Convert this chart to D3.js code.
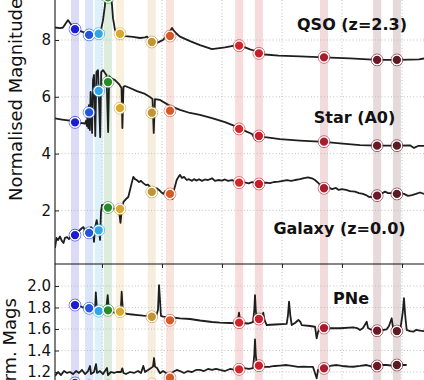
<!DOCTYPE html>
<html><head><meta charset="utf-8">
<script src="https://cdn.jsdelivr.net/npm/d3@7"></script>
<style>html,body{margin:0;padding:0;background:#fff;overflow:hidden}svg{display:block}</style>
</head><body><svg id="c" width="424" height="380"></svg>
<script>
// ---------- data ----------
const filters = ['uJAVA','J0378','J0395','J0410','J0430','gSDSS','J0515','rSDSS','J0660','iSDSS','J0861','zSDSS'];
const filterWave = [3550,3785,3945,4100,4300,4830,5133,6285,6615,7700,8585,8915];
const filterColor = ['#1c1cd6','#2455e0','#2ea6e8','#2a8a2a','#d9a92c','#c39433','#d9582a','#d42428','#c81d2a','#a81c2c','#6e1826','#5c1a22'];

const xTicks = [4000,5000,6000,7000,8000,9000];
const topTicks = [2,4,6,8];
const botTicks = [1.2,1.4,1.6,1.8,2.0];

const qsoWave = [3217,3300,3350,3400,3433,3467,3517,3550,3633,3717,3783,3867,3950,3983,4017,4050,4067,4083,4108,4133,4150,4167,4183,4217,4250,4300,4383,4517,4633,4717,4750,4783,4833,4917,4967,5017,5083,5133,5167,5200,5250,5300,5467,5633,5833,6050,6183,6233,6300,6383,6467,6533,6600,6717,6945,7300,7700,8133,8583,8917,9133,9283,9367];
const qsoMag = [8.44,8.42,8.44,8.60,8.70,8.60,8.46,8.38,8.32,8.25,8.18,8.18,8.22,8.35,8.70,9.23,9.76,10.29,10.46,10.11,9.58,9.23,8.77,8.35,8.25,8.19,8.14,8.11,8.07,8.09,8.12,8.04,7.93,7.90,7.95,8.00,8.18,8.32,8.42,8.32,8.21,8.12,7.96,7.82,7.68,7.74,7.79,7.81,7.79,7.74,7.67,7.63,7.54,7.49,7.45,7.42,7.39,7.35,7.30,7.30,7.31,7.32,7.35];
const qsoPhot = [8.38,8.18,8.22,9.50,8.22,7.93,8.14,7.80,7.53,7.39,7.30,7.30];

const starWave = [3217,3333,3467,3550,3633,3717,3733,3750,3760,3772,3782,3798,3810,3835,3850,3867,3888,3907,3933,3970,3987,4017,4050,4075,4102,4120,4150,4217,4283,4325,4340,4358,4383,4467,4583,4717,4800,4842,4862,4883,4967,5133,5300,5467,5633,5833,6050,6250,6383,6500,6563,6600,6717,6967,7300,7700,7967,8300,8583,8917,9133,9200,9267,9367];
const starMag = [5.24,5.20,5.16,5.10,5.08,5.06,5.15,4.97,5.46,4.90,5.71,4.83,6.17,4.73,6.59,6.77,4.62,6.87,6.94,4.58,6.87,6.94,6.84,6.77,4.76,6.73,6.66,6.59,6.45,6.31,4.90,6.35,6.38,6.31,6.20,6.10,5.99,5.92,4.73,5.92,5.89,5.68,5.54,5.43,5.36,5.25,5.11,4.94,4.80,4.69,4.48,4.65,4.58,4.51,4.46,4.41,4.36,4.30,4.28,4.28,4.29,4.20,4.27,4.27];
const starPhot = [5.10,5.45,6.21,6.52,5.60,5.44,5.51,4.87,4.62,4.42,4.28,4.28];

const galWave = [3217,3242,3267,3300,3333,3358,3383,3417,3450,3492,3550,3583,3633,3667,3692,3717,3742,3767,3792,3817,3842,3867,3883,3912,3933,3950,3967,3983,4000,4033,4067,4100,4150,4183,4233,4283,4308,4325,4358,4400,4438,4467,4495,4522,4550,4578,4617,4650,4688,4733,4767,4800,4833,4867,4912,4950,4983,5022,5050,5078,5108,5142,5175,5200,5245,5275,5300,5333,5367,5412,5450,5500,5533,5578,5617,5667,5717,5767,5833,5883,5933,6000,6050,6100,6167,6233,6288,6350,6445,6500,6550,6612,6667,6733,6800,6867,6945,7017,7083,7150,7217,7300,7367,7433,7500,7550,7612,7650,7700,7767,7833,7900,7945,8000,8067,8133,8217,8283,8350,8400,8445,8500,8550,8600,8650,8717,8767,8833,8912,8967,9033,9100,9167,9233,9300,9367];
const galMag = [0.68,1.03,0.96,1.08,0.92,0.85,1.03,1.06,0.99,1.13,1.13,1.20,1.31,1.38,1.41,1.27,1.35,1.20,1.27,1.41,1.35,0.89,1.38,1.66,1.38,1.45,0.96,1.94,2.19,2.19,2.12,2.08,2.08,2.07,2.05,2.01,1.56,1.94,2.30,2.40,2.47,2.72,2.96,3.18,3.10,3.07,3.00,3.04,2.96,2.89,2.91,2.82,2.68,2.75,2.78,2.72,2.65,2.58,2.68,2.66,2.61,2.51,2.40,2.72,3.07,3.18,3.25,3.14,3.18,3.07,3.10,3.04,3.10,3.05,3.10,3.04,3.09,3.07,3.13,3.04,3.07,3.05,3.09,3.04,3.07,3.00,2.98,3.00,2.95,3.00,2.95,2.93,2.96,2.98,2.96,3.00,3.01,3.04,3.07,3.04,3.07,3.10,3.14,3.16,3.13,3.07,2.95,2.86,2.78,2.82,2.75,2.79,2.72,2.75,2.72,2.68,2.66,2.61,2.58,2.54,2.48,2.47,2.51,2.51,2.58,2.66,2.61,2.61,2.58,2.61,2.58,2.51,2.54,2.58,2.63,2.58];
const galPhot = [1.13,1.21,1.30,2.10,2.05,2.65,2.58,2.98,2.93,2.78,2.52,2.58];

const pneWave = [3583,3633,3683,3733,3783,3833,3883,3892,3897,3905,3917,3967,4017,4067,4083,4095,4105,4117,4167,4217,4267,4312,4322,4328,4338,4350,4412,4500,4600,4688,4767,4833,4900,4933,4950,4967,4983,5022,5100,5167,5300,5467,5633,5833,5967,6133,6245,6267,6283,6300,6333,6433,6517,6538,6550,6563,6578,6617,6667,6688,6708,6745,6883,7078,7100,7117,7138,7162,7217,7272,7308,7328,7467,7550,7578,7600,7633,7800,7967,8188,8250,8300,8350,8412,8433,8495,8633,8745,8783,8828,8855,8933,8975,9013,9033,9053,9078,9133,9188,9233,9300,9367];
const pneMag = [1.823,1.814,1.800,1.795,1.786,1.777,1.777,1.870,1.941,1.870,1.767,1.758,1.758,1.763,1.851,1.916,1.842,1.767,1.758,1.753,1.753,1.777,1.870,1.947,1.851,1.758,1.740,1.735,1.730,1.724,1.721,1.716,1.716,1.777,2.009,1.870,1.721,1.716,1.712,1.707,1.698,1.693,1.679,1.665,1.659,1.656,1.653,1.684,1.752,1.684,1.656,1.651,1.665,1.777,1.916,1.777,1.684,1.688,1.702,1.752,1.684,1.637,1.642,1.647,1.730,1.854,1.730,1.637,1.656,1.684,1.665,1.637,1.628,1.621,1.513,1.572,1.607,1.609,1.607,1.616,1.609,1.591,1.609,1.668,1.609,1.591,1.586,1.597,1.628,1.700,1.591,1.581,1.609,1.758,1.886,1.730,1.591,1.581,1.575,1.591,1.584,1.581];
const pnePhot = [1.823,1.793,1.767,1.774,1.761,1.714,1.681,1.659,1.693,1.609,1.584,1.581];

const lowerWave = [3217,3267,3317,3367,3417,3467,3517,3567,3617,3667,3717,3767,3800,3817,3867,3900,3917,3967,4017,4083,4100,4150,4200,4250,4317,4338,4358,4400,4467,4533,4600,4650,4688,4717,4767,4817,4850,4867,4883,4917,4967,5017,5067,5133,5183,5245,5300,5367,5433,5500,5567,5633,5700,5767,5833,5900,5967,6050,6133,6217,6283,6367,6450,6517,6538,6550,6563,6583,6633,6717,6800,6883,6967,7078,7167,7267,7355,7433,7517,7578,7600,7700,7800,7912,8000,8100,8188,8300,8412,8500,8583,8667,8745,8833,8917,9000,9078];
const lowerMag = [1.163,1.200,1.172,1.209,1.191,1.200,1.181,1.209,1.191,1.219,1.181,1.209,1.256,1.181,1.200,1.274,1.191,1.209,1.181,1.237,1.172,1.200,1.191,1.200,1.200,1.234,1.191,1.181,1.200,1.191,1.209,1.191,1.256,1.200,1.219,1.237,1.250,1.330,1.250,1.237,1.188,1.209,1.191,1.163,1.200,1.219,1.209,1.191,1.209,1.200,1.219,1.219,1.209,1.228,1.219,1.228,1.219,1.209,1.228,1.219,1.225,1.237,1.228,1.237,1.358,1.504,1.358,1.247,1.256,1.247,1.249,1.256,1.260,1.265,1.256,1.247,1.249,1.247,1.247,1.141,1.219,1.234,1.256,1.265,1.256,1.251,1.249,1.256,1.265,1.251,1.256,1.265,1.265,1.260,1.265,1.265,1.265];
const lowerPhot = [1.098,1.070,1.051,1.070,1.051,1.088,1.147,1.225,1.259,1.234,1.256,1.265];

const labelsTop = ['QSO (z=2.3)','Star (A0)','Galaxy (z=0.0)'];
const labelBottom = 'PNe';

// ---------- drawing ----------
const svg = d3.select('#c');
const W = 424, H = 380;
const left = 55, sep = 264;
const x = d3.scaleLinear().domain([4000,9000]).range([102,402]);
const yTop = d3.scaleLinear().domain([8,2]).range([40,210.4]);
const yBot = d3.scaleLinear().domain([2.0,1.2]).range([286,372]);

const defs = svg.append('defs');
defs.append('clipPath').attr('id','clipTop').append('rect').attr('x',left).attr('y',-60).attr('width',W).attr('height',sep+60);
defs.append('clipPath').attr('id','clipBot').append('rect').attr('x',left).attr('y',sep).attr('width',W).attr('height',200);

// filter bands
svg.append('g').selectAll('rect').data(filterWave).join('rect')
  .attr('x', d => x(d) - 4).attr('width', 8)
  .attr('y', 0).attr('height', H)
  .attr('fill', (d,i) => filterColor[i]).attr('fill-opacity', 0.16);

// grid
const grid = svg.append('g').attr('stroke','#b4b4b4').attr('stroke-width',0.8).attr('stroke-dasharray','1,2.2');
grid.selectAll('.vx').data(xTicks).join('line').attr('class','vx')
  .attr('x1',d=>x(d)).attr('x2',d=>x(d)).attr('y1',0).attr('y2',H);
grid.selectAll('.ht').data(topTicks).join('line').attr('class','ht')
  .attr('x1',left).attr('x2',W).attr('y1',d=>yTop(d)).attr('y2',d=>yTop(d));
grid.selectAll('.hb').data(botTicks).join('line').attr('class','hb')
  .attr('x1',left).attr('x2',W).attr('y1',d=>yBot(d)).attr('y2',d=>yBot(d));

// spectra
function spec(g, wave, mag, y) {
  const pts = wave.map((w,i)=>[w, mag[i]]);
  g.append('path').datum(pts)
    .attr('d', d3.line().x(d=>x(d[0])).y(d=>y(d[1])))
    .attr('fill','none').attr('stroke','#1e1e1e').attr('stroke-width',1.8)
    .attr('stroke-linejoin','round');
}
function phot(g, vals, y) {
  const pts = vals.map((v,i)=>({w:filterWave[i], v, c:filterColor[i]}));
  const gg = g.append('g');
  gg.selectAll('.o').data(pts).join('circle').attr('class','o')
    .attr('cx',d=>x(d.w)).attr('cy',d=>y(d.v)).attr('r',5.9)
    .attr('fill','none').attr('stroke',d=>d.c).attr('stroke-width',0.9).attr('stroke-opacity',0.75);
  gg.selectAll('.i').data(pts).join('circle').attr('class','i')
    .attr('cx',d=>x(d.w)).attr('cy',d=>y(d.v)).attr('r',4.8)
    .attr('fill',d=>d.c).attr('stroke','#fff').attr('stroke-width',1.3);
}
const gTop = svg.append('g').attr('clip-path','url(#clipTop)');
spec(gTop, qsoWave, qsoMag, yTop);
spec(gTop, starWave, starMag, yTop);
spec(gTop, galWave, galMag, yTop);
phot(gTop, qsoPhot, yTop);
phot(gTop, starPhot, yTop);
phot(gTop, galPhot, yTop);

const gBot = svg.append('g').attr('clip-path','url(#clipBot)');
spec(gBot, pneWave, pneMag, yBot);
spec(gBot, lowerWave, lowerMag, yBot);
phot(gBot, pnePhot, yBot);
phot(gBot, lowerPhot, yBot);

// axes
const font = 'DejaVu Sans, sans-serif';
const axT = svg.append('g').attr('transform',`translate(${left},0)`)
  .call(d3.axisLeft(yTop).tickValues(topTicks).tickFormat(d3.format('d')).tickSizeInner(-4).tickSizeOuter(0).tickPadding(4));
const axB = svg.append('g').attr('transform',`translate(${left},0)`)
  .call(d3.axisLeft(yBot).tickValues(botTicks).tickFormat(d3.format('.1f')).tickSizeInner(-4).tickSizeOuter(0).tickPadding(4));
[axT, axB].forEach(a => {
  a.select('.domain').remove();
  a.selectAll('text').attr('font-family',font).attr('font-size',15).attr('fill','#111');
  a.selectAll('line').attr('stroke','#222');
});
const axX = svg.append('g').attr('transform',`translate(0,${sep})`)
  .call(d3.axisTop(x).tickValues(xTicks).tickFormat('').tickSizeInner(-4).tickSizeOuter(0));
axX.select('.domain').remove();
axX.selectAll('line').attr('stroke','#222');

svg.append('line').attr('x1',left).attr('x2',left).attr('y1',0).attr('y2',H).attr('stroke','#2a2a2a').attr('stroke-width',1.2);
svg.append('line').attr('x1',left).attr('x2',W).attr('y1',sep).attr('y2',sep).attr('stroke','#111').attr('stroke-width',1.2);

// axis labels
svg.append('text').attr('transform','translate(22,201) rotate(-90)')
  .attr('font-family',font).attr('font-size',18).attr('fill','#111').text('Normalised Magnitude');
svg.append('text').attr('transform','translate(16,406) rotate(-90)')
  .attr('font-family',font).attr('font-size',18).attr('fill','#111').text('Norm. Mags');

// object labels
const lab = svg.append('g').attr('font-family',font).attr('font-weight','bold').attr('font-size',16).attr('fill','#111').attr('text-anchor','middle');
lab.append('text').attr('x',352).attr('y',29.5).text(labelsTop[0]);
lab.append('text').attr('x',354.5).attr('y',123).text(labelsTop[1]);
lab.append('text').attr('x',339.5).attr('y',234).text(labelsTop[2]);
lab.append('text').attr('x',351).attr('y',304).text(labelBottom);
</script></body></html>
